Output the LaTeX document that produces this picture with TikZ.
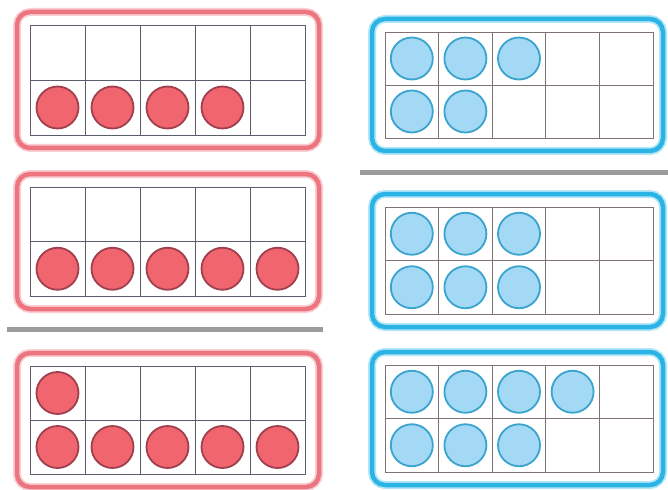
\documentclass[tikz,border=0pt]{standalone}
\definecolor{redframe}{HTML}{EC7580}
\definecolor{redhalo}{HTML}{F9CDD1}
\definecolor{reddot}{HTML}{F1656F}
\definecolor{reddotedge}{HTML}{A0404E}
\definecolor{blueframe}{HTML}{2AB4E6}
\definecolor{bluehalo}{HTML}{B4E6F7}
\definecolor{bluedot}{HTML}{A3D9F4}
\definecolor{bluedotedge}{HTML}{3AA3CE}
\definecolor{redgrid}{HTML}{5A5E6A}
\definecolor{bluegrid}{HTML}{7E7272}
\definecolor{sepgray}{HTML}{9C9C9C}
\tikzset{
  halo/.style={draw=#1halo, line width=8pt, rounded corners=13pt},
  frameline/.style={draw=#1frame, line width=4.5pt, rounded corners=13pt},
  gridstyle/.style={draw=#1grid, line width=0.9pt},
  counter/.style={circle, fill=#1dot, draw=#1dotedge, line width=1.8pt, minimum size=42pt, inner sep=0pt},
  separator/.style={draw=sepgray, line width=5pt}
}
% #1 name, #2 x0, #3 y0, #4 cell width, #5 colour prefix, #6 top count, #7 bottom count, #8 cell height, #9 right margin
\newcommand\tenframe[9]{%
  \pgfmathsetmacro\fw{5*#4}%
  \pgfmathsetmacro\fh{2*#8}%
  \draw[halo=#5] (#2-13,#3-13) rectangle (#2+\fw+#9,#3+\fh+13);
  \draw[frameline=#5] (#2-13,#3-13) rectangle (#2+\fw+#9,#3+\fh+13);
  \node[draw=none, minimum width=\fw pt, minimum height=\fh pt, anchor=north west, inner sep=0pt] (#1) at (#2,#3) {};
  \draw[gridstyle=#5] (#1.north west) rectangle (#1.south east);
  \draw[gridstyle=#5] (#1.west) -- (#1.east);
  \foreach \k in {1,...,4} {\draw[gridstyle=#5] (#2+\k*#4,#3) -- (#2+\k*#4,#3+\fh);}
  \ifnum#6>0 \foreach \i in {1,...,#6} {\node[counter=#5] (#1-t\i) at (#2+\i*#4-0.5*#4,#3+0.5*#8) {};}\fi
  \ifnum#7>0 \foreach \i in {1,...,#7} {\node[counter=#5] (#1-b\i) at (#2+\i*#4-0.5*#4,#3+1.5*#8) {};}\fi
}
\begin{document}
\begin{tikzpicture}[x=1pt,y=-1pt]
  \useasboundingbox (0,0) rectangle (668,489);
  \fill[white] (0,0) rectangle (668,489);
  % left column
  \tenframe{L1}{30}{25}{55}{red}{0}{4}{55}{14}
  \tenframe{L2}{30}{187}{55}{red}{0}{5}{54.5}{14}
  \tenframe{L3}{30}{366}{55}{red}{1}{5}{54}{14}
  \coordinate (sepLa) at (7,329);
  \coordinate (sepLb) at (323,329);
  \draw[separator] (sepLa) -- (sepLb);
  % right column
  \tenframe{R1}{385}{32}{53.6}{blue}{3}{2}{53}{10}
  \tenframe{R2}{385}{207}{53.6}{blue}{3}{3}{53.5}{10}
  \tenframe{R3}{385}{365}{53.6}{blue}{4}{3}{53.5}{10}
  \coordinate (sepRa) at (360,172);
  \coordinate (sepRb) at (668,172);
  \draw[separator] (sepRa) -- (sepRb);
\end{tikzpicture}
\end{document}
